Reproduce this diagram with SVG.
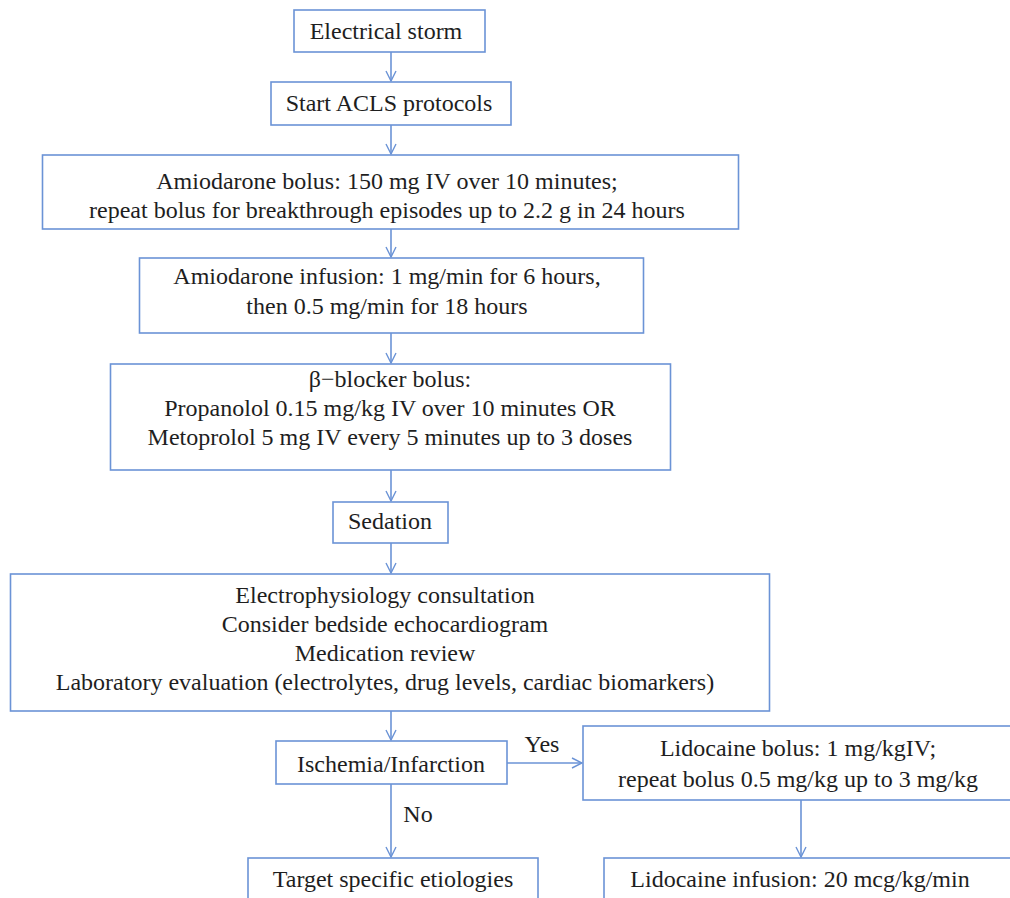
<svg xmlns="http://www.w3.org/2000/svg" width="1010" height="898" viewBox="0 0 1010 898">
<defs>
<style>
.box{fill:#fff;stroke:#6b93d6;stroke-width:1.6}
.t{font-family:'Liberation Serif','Times New Roman',serif;font-size:24px;fill:#1e1e1e;text-anchor:middle}
.c{fill:none;stroke:#6b93d6;stroke-width:1.6}
</style>
<marker id="ah" viewBox="0 0 12 12" refX="11" refY="6" markerWidth="12" markerHeight="12" markerUnits="userSpaceOnUse" orient="auto">
<path d="M1,1 L11,6 L1,11" fill="none" stroke="#6b93d6" stroke-width="1.4"/>
</marker>
</defs>
<rect width="1010" height="898" fill="#fff"/>
<g id="connectors">
<line class="c" x1="391" y1="52" x2="391" y2="81" marker-end="url(#ah)"/>
<line class="c" x1="391" y1="125" x2="391" y2="154" marker-end="url(#ah)"/>
<line class="c" x1="391" y1="229" x2="391" y2="257" marker-end="url(#ah)"/>
<line class="c" x1="391" y1="333" x2="391" y2="363" marker-end="url(#ah)"/>
<line class="c" x1="391" y1="470" x2="391" y2="501" marker-end="url(#ah)"/>
<line class="c" x1="391" y1="543" x2="391" y2="573" marker-end="url(#ah)"/>
<line class="c" x1="391" y1="711" x2="391" y2="740" marker-end="url(#ah)"/>
<line class="c" x1="391" y1="784" x2="391" y2="857" marker-end="url(#ah)"/>
<line class="c" x1="507" y1="763" x2="582" y2="763" marker-end="url(#ah)"/>
<line class="c" x1="801" y1="800" x2="801" y2="857" marker-end="url(#ah)"/>
<text class="t" x="542" y="752" font-family="Liberation Serif" font-size="24">Yes</text>
<text class="t" x="418" y="822" font-family="Liberation Serif" font-size="24">No</text>
</g>
<g id="n1"><rect class="box" x="294" y="10" width="191" height="42"/><text class="t" x="386" y="39" font-family="Liberation Serif" font-size="24">Electrical storm</text></g>
<g id="n2"><rect class="box" x="271" y="82" width="240" height="43"/><text class="t" x="389" y="111" font-family="Liberation Serif" font-size="24">Start ACLS protocols</text></g>
<g id="n3" font-family="Liberation Serif" font-size="24"><rect class="box" x="42.5" y="155" width="696" height="74"/><text class="t" x="387" y="189">Amiodarone bolus: 150 mg IV over 10 minutes;</text><text class="t" x="387" y="218">repeat bolus for breakthrough episodes up to 2.2 g in 24 hours</text></g>
<g id="n4" font-family="Liberation Serif" font-size="24"><rect class="box" x="139.5" y="258" width="504" height="75"/><text class="t" x="387" y="284">Amiodarone infusion: 1 mg/min for 6 hours,</text><text class="t" x="387" y="314">then 0.5 mg/min for 18 hours</text></g>
<g id="n5" font-family="Liberation Serif" font-size="24"><rect class="box" x="110.5" y="364" width="560" height="106"/><text class="t" x="390" y="387">β−blocker bolus:</text><text class="t" x="390" y="416">Propanolol 0.15 mg/kg IV over 10 minutes OR</text><text class="t" x="390" y="445">Metoprolol 5 mg IV every 5 minutes up to 3 doses</text></g>
<g id="n6" font-family="Liberation Serif" font-size="24"><rect class="box" x="333" y="502" width="115" height="41"/><text class="t" x="390" y="529">Sedation</text></g>
<g id="n7" font-family="Liberation Serif" font-size="24"><rect class="box" x="10.5" y="574" width="759" height="137"/><text class="t" x="385" y="603">Electrophysiology consultation</text><text class="t" x="385" y="632">Consider bedside echocardiogram</text><text class="t" x="385" y="661">Medication review</text><text class="t" x="385" y="690">Laboratory evaluation (electrolytes, drug levels, cardiac biomarkers)</text></g>
<g id="n8" font-family="Liberation Serif" font-size="24"><rect class="box" x="276" y="741" width="231" height="43"/><text class="t" x="391" y="772">Ischemia/Infarction</text></g>
<g id="n9" font-family="Liberation Serif" font-size="24"><rect class="box" x="583" y="726" width="440" height="74"/><text class="t" x="798" y="756">Lidocaine bolus: 1 mg/kgIV;</text><text class="t" x="798" y="787">repeat bolus 0.5 mg/kg up to 3 mg/kg</text></g>
<g id="n10" font-family="Liberation Serif" font-size="24"><rect class="box" x="248" y="858" width="290" height="50"/><text class="t" x="393" y="887">Target specific etiologies</text></g>
<g id="n11" font-family="Liberation Serif" font-size="24"><rect class="box" x="604" y="858" width="420" height="50"/><text class="t" x="800" y="887">Lidocaine infusion: 20 mcg/kg/min</text></g>
</svg>
